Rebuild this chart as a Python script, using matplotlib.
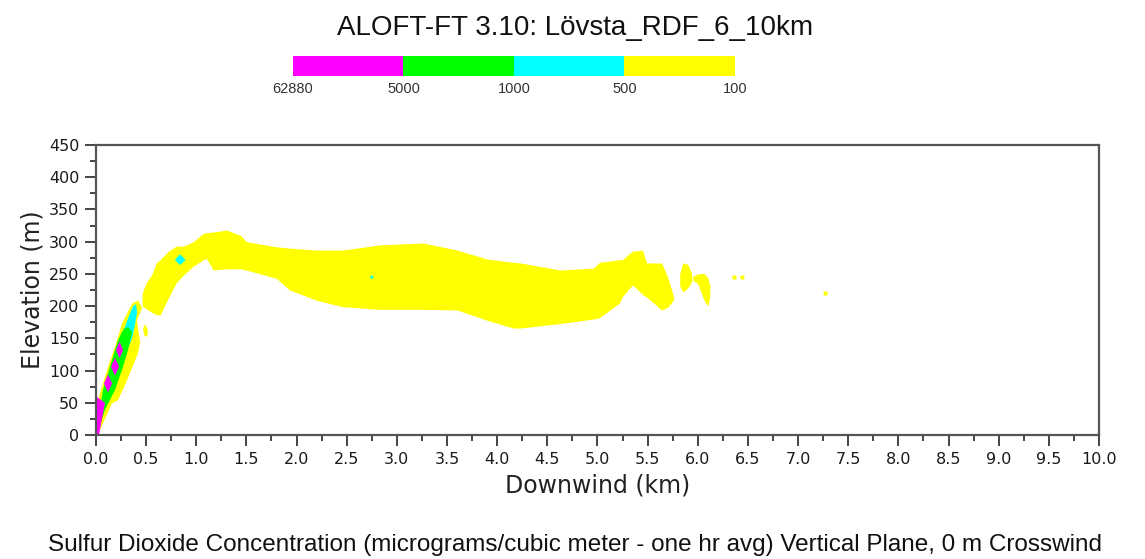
import numpy as np
import matplotlib
matplotlib.use("Agg")
import matplotlib.pyplot as plt
from matplotlib.colors import ListedColormap

# concentration levels (ug/m3) and their fill colours
levels = ["62880", "5000", "1000", "500", "100"]
level_colors = ["#ff00ff", "#00ff00", "#00ffff", "#ffff00"]

# rising part of the plume near the stack (polygon, km / m)
rise_x = [0.00, 0.01, 0.11, 0.19, 0.26, 0.36, 0.42, 0.46, 0.41, 0.44, 0.42, 0.31, 0.22, 0.16, 0.07, 0.03]
rise_z = [0, 49, 101, 137, 173, 204, 209, 197, 178, 143, 127, 85, 54, 49, 18, 5]

# small detached puff next to the rising part
puff_x = [0.47, 0.49, 0.52, 0.51, 0.48]
puff_z = [165, 172, 162, 152, 155]

# 500-1000 core
cyan_x = [0.22, 0.27, 0.33, 0.37, 0.40, 0.41, 0.39, 0.36, 0.32, 0.27]
cyan_z = [125, 160, 185, 200, 203, 190, 172, 150, 135, 120]

# 1000-5000 core
green_x = [0.00, 0.07, 0.14, 0.22, 0.27, 0.32, 0.36, 0.32, 0.26, 0.19, 0.09, 0.03]
green_z = [0, 70, 106, 147, 163, 168, 160, 132, 101, 70, 39, 10]

# >5000 cells along the plume axis
magenta_x = [[0.00, 0.01, 0.09, 0.03],
             [0.08, 0.12, 0.16, 0.12],
             [0.15, 0.19, 0.23, 0.19],
             [0.20, 0.235, 0.27, 0.235]]
magenta_z = [[0, 59, 50, 0],
             [80, 94, 80, 66],
             [106, 120, 106, 92],
             [132, 145, 132, 119]]

# main level part of the plume: top and bottom of the 100 ug/m3 contour
main_x = [0.46, 0.50, 0.56, 0.60, 0.64, 0.72, 0.80, 0.87, 0.97, 1.07, 1.10, 1.17, 1.30, 1.44,
          1.50, 1.80, 1.93, 2.20, 2.46, 2.83, 3.26, 3.60, 3.90, 4.16, 4.23, 4.63, 4.96, 5.02,
          5.22, 5.25, 5.32, 5.35, 5.45, 5.49, 5.64, 5.70, 5.76]
main_top = [220, 236, 250, 267, 272, 285, 293, 293, 300, 313, 314, 315, 318, 310,
            300, 292, 290, 287, 287, 295, 298, 287, 273, 268, 267, 256, 259, 268,
            272, 272, 282, 285, 287, 267, 267, 245, 214]
main_bot = [200, 196, 190, 187, 186, 212, 236, 248, 262, 272, 274, 256, 258, 258,
            256, 243, 225, 209, 199, 195, 195, 194, 178, 166, 166, 173, 180, 182,
            205, 215, 228, 233, 218, 214, 194, 198, 210]

# detached blobs downwind
blob1_x = [5.82, 5.85, 5.90, 5.94]
blob1_top = [250, 267, 265, 250]
blob1_bot = [232, 222, 228, 238]
blob2_x = [5.95, 6.00, 6.06, 6.10, 6.12]
blob2_top = [246, 250, 251, 244, 232]
blob2_bot = [240, 235, 210, 200, 215]

dots_x = [6.36, 6.44, 7.27]
dots_z = [245, 245, 220]
cyan_dots_x = [0.84, 2.75]
cyan_dots_z = [272, 245]

fig = plt.figure(figsize=(11.45, 5.59), dpi=100)

fig.text(0.502, 0.95, "ALOFT-FT 3.10: Lövsta_RDF_6_10km", ha="center", va="center",
         fontsize=20, family="Liberation Sans", color="#111111")

# legend bar
cax = fig.add_axes([0.2559, 0.864, 0.3860, 0.0358])
cax.pcolormesh(np.arange(5), [0, 1], [np.arange(4)], cmap=ListedColormap(level_colors))
cax.set_xlim(0, 4)
cax.set_ylim(0, 1)
cax.set_yticks([])
cax.set_xticks(range(5))
cax.set_xticklabels(levels, fontsize=10.5, color="#333333", family="Liberation Sans")
cax.tick_params(length=0, pad=4)
for s in cax.spines.values():
    s.set_visible(False)

ax = fig.add_axes([0.0838, 0.2218, 0.8760, 0.5188])
ax.fill(rise_x, rise_z, color=level_colors[3], lw=0)
ax.fill(puff_x, puff_z, color=level_colors[3], lw=0)
ax.fill_between(main_x, main_bot, main_top, color=level_colors[3], lw=0)
ax.fill_between(blob1_x, blob1_bot, blob1_top, color=level_colors[3], lw=0)
ax.fill_between(blob2_x, blob2_bot, blob2_top, color=level_colors[3], lw=0)
ax.scatter(dots_x, dots_z, s=10, color=level_colors[3], lw=0)
ax.fill(cyan_x, cyan_z, color=level_colors[2], lw=0)
ax.fill(green_x, green_z, color=level_colors[1], lw=0)
for mx, mz in zip(magenta_x, magenta_z):
    ax.fill(mx, mz, color=level_colors[0], lw=0)
ax.scatter(cyan_dots_x, cyan_dots_z, s=[30, 4], color=level_colors[2], lw=0, marker="D")

ax.set_xlim(0, 10)
ax.set_ylim(0, 450)
ax.set_xticks(np.arange(0, 10.01, 0.5))
ax.set_xticks(np.arange(0.25, 10, 0.5), minor=True)
ax.set_yticks(np.arange(0, 451, 50))
ax.set_yticks(np.arange(25, 450, 50), minor=True)
ax.xaxis.set_major_formatter(lambda v, p: f"{v:.1f}")
ax.tick_params(which="major", length=8, width=1.4, color="#444444", labelsize=11.5,
               labelcolor="#1a1a1a", pad=4)
ax.tick_params(which="minor", length=4, width=1.4, color="#444444")
for s in ax.spines.values():
    s.set_color("#555555")
    s.set_linewidth(1.6)

ax.set_xlabel("Downwind (km)", fontsize=17, color="#222222", labelpad=5)
ax.set_ylabel("Elevation (m)", fontsize=17, color="#222222", labelpad=3)

fig.text(0.502, 0.025, "Sulfur Dioxide Concentration (micrograms/cubic meter - one hr avg) Vertical Plane, 0 m Crosswind",
         ha="center", va="center", fontsize=17.5, family="Liberation Sans", color="#111111")

fig.savefig("out.png", dpi=100)
